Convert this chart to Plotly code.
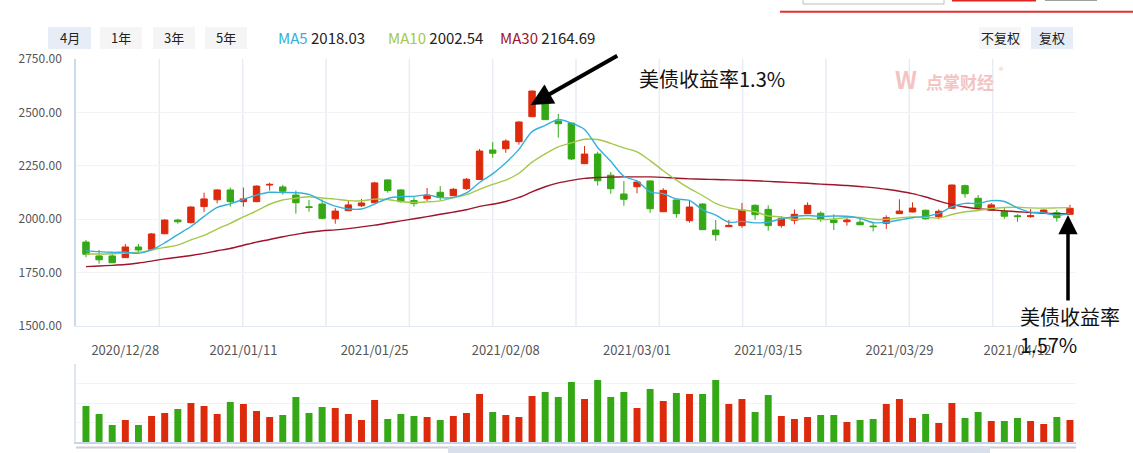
import plotly.graph_objects as go

# ---------------- data ----------------
dates = [
    "2020/12/23", "2020/12/24", "2020/12/25", "2020/12/28", "2020/12/29", "2020/12/30", "2020/12/31",
    "2021/01/04", "2021/01/05", "2021/01/06", "2021/01/07", "2021/01/08",
    "2021/01/11", "2021/01/12", "2021/01/13", "2021/01/14", "2021/01/15",
    "2021/01/18", "2021/01/19", "2021/01/20", "2021/01/21", "2021/01/22",
    "2021/01/25", "2021/01/26", "2021/01/27", "2021/01/28", "2021/01/29",
    "2021/02/01", "2021/02/02", "2021/02/03", "2021/02/04", "2021/02/05",
    "2021/02/08", "2021/02/09", "2021/02/10", "2021/02/18", "2021/02/19",
    "2021/02/22", "2021/02/23", "2021/02/24", "2021/02/25", "2021/02/26",
    "2021/03/01", "2021/03/02", "2021/03/03", "2021/03/04", "2021/03/05",
    "2021/03/08", "2021/03/09", "2021/03/10", "2021/03/11", "2021/03/12",
    "2021/03/15", "2021/03/16", "2021/03/17", "2021/03/18", "2021/03/19",
    "2021/03/22", "2021/03/23", "2021/03/24", "2021/03/25", "2021/03/26",
    "2021/03/29", "2021/03/30", "2021/03/31", "2021/04/01", "2021/04/02",
    "2021/04/06", "2021/04/07", "2021/04/08", "2021/04/09",
    "2021/04/12", "2021/04/13", "2021/04/14", "2021/04/15", "2021/04/16",
]

opens = [1893, 1828, 1828, 1820, 1870, 1859, 1932, 1996, 1984, 2059,
         2091, 2137, 2082, 2082, 2160, 2151, 2113, 2058, 2071, 2002,
         2040, 2063, 2077, 2184, 2137, 2087, 2096, 2126, 2110, 2143,
         2186, 2324, 2330, 2363, 2480, 2586, 2460, 2450, 2260, 2305,
         2206, 2118, 2152, 2179, 2035, 2090, 1993, 2071, 1949, 1965,
         1970, 2065, 2046, 1970, 1995, 2026, 2028, 1996, 1988, 1986,
         1968, 1981, 2026, 2034, 2042, 2012, 2051, 2157, 2098, 2042,
         2037, 2016, 2012, 2028, 2030, 2023]
highs = [1903, 1856, 1840, 1884, 1884, 1935, 2000, 2002, 2060, 2124,
         2140, 2148, 2148, 2158, 2171, 2161, 2134, 2090, 2093, 2052,
         2085, 2095, 2175, 2186, 2140, 2103, 2146, 2155, 2146, 2193,
         2329, 2361, 2374, 2458, 2602, 2624, 2493, 2452, 2343, 2316,
         2221, 2179, 2176, 2181, 2145, 2092, 2087, 2075, 1996, 1996,
         2076, 2070, 2065, 2014, 2046, 2079, 2037, 2023, 2012, 2009,
         1988, 2018, 2093, 2079, 2045, 2046, 2162, 2162, 2113, 2076,
         2052, 2024, 2048, 2045, 2043, 2067]
lows = [1822, 1792, 1796, 1820, 1843, 1855, 1930, 1979, 1980, 2034,
        2074, 2059, 2059, 2080, 2134, 2115, 2026, 2035, 2000, 1979,
        2038, 2057, 2075, 2124, 2078, 2059, 2085, 2090, 2108, 2137,
        2184, 2288, 2311, 2349, 2478, 2466, 2382, 2277, 2258, 2157,
        2119, 2063, 2121, 2030, 2033, 2007, 1984, 1950, 1899, 1963,
        1960, 1998, 1946, 1960, 1976, 2024, 1988, 1949, 1970, 1972,
        1943, 1954, 2024, 2032, 1998, 2000, 2049, 2101, 2050, 2040,
        2002, 1988, 2006, 2025, 1988, 2020]
closes = [1836, 1810, 1796, 1870, 1856, 1931, 1996, 1988, 2057, 2095,
          2137, 2082, 2095, 2155, 2163, 2131, 2077, 2055, 2004, 2038,
          2067, 2076, 2170, 2134, 2082, 2073, 2113, 2103, 2140, 2187,
          2319, 2309, 2366, 2455, 2600, 2466, 2447, 2282, 2305, 2180,
          2143, 2093, 2174, 2049, 2135, 2026, 2057, 1951, 1927, 1971,
          2043, 2021, 1970, 2004, 2023, 2065, 2001, 1984, 1996, 1974,
          1965, 2007, 2038, 2052, 2002, 2037, 2160, 2119, 2054, 2067,
          2014, 2012, 2016, 2043, 2007, 2051]

ma5 = [1853, 1848, 1845, 1845, 1840, 1856, 1889, 1928, 1966, 2013,
       2055, 2072, 2093, 2113, 2126, 2125, 2124, 2116, 2086, 2061,
       2048, 2048, 2071, 2097, 2106, 2107, 2114, 2101, 2102, 2123,
       2172, 2212, 2264, 2327, 2410, 2439, 2467, 2450, 2420, 2336,
       2271, 2201, 2179, 2128, 2119, 2095, 2088, 2044, 2019, 1986,
       1990, 1983, 1986, 2002, 2012, 2017, 2013, 2015, 2014, 2004,
       1984, 1985, 1996, 2007, 2013, 2027, 2058, 2074, 2074, 2087,
       2083, 2053, 2033, 2030, 2018, 2026]
ma10 = [1837, 1837, 1838, 1842, 1845, 1856, 1868, 1879, 1903, 1924,
        1954, 1981, 2011, 2039, 2070, 2090, 2098, 2105, 2099, 2094,
        2087, 2086, 2094, 2092, 2083, 2078, 2081, 2086, 2100, 2115,
        2140, 2163, 2183, 2215, 2267, 2306, 2339, 2357, 2374, 2373,
        2355, 2334, 2315, 2274, 2227, 2183, 2144, 2111, 2074, 2053,
        2043, 2035, 2015, 2011, 1999, 2003, 1998, 2001, 2008, 2008,
        2000, 1999, 2006, 2011, 2009, 2006, 2022, 2035, 2041, 2050,
        2055, 2056, 2053, 2052, 2053, 2054]
ma30 = [1778, 1781, 1784, 1788, 1795, 1804, 1814, 1822, 1830, 1840,
        1852, 1863, 1878, 1893, 1905, 1918, 1929, 1939, 1946, 1950,
        1956, 1964, 1972, 1982, 1992, 2002, 2012, 2023, 2033, 2044,
        2060, 2070, 2083, 2102, 2128, 2152, 2170, 2182, 2191, 2195,
        2197, 2198, 2198, 2198, 2196, 2192, 2189, 2187, 2186, 2184,
        2182, 2180, 2177, 2174, 2171, 2168, 2164, 2161, 2158, 2153,
        2148, 2140, 2131, 2120, 2104, 2085, 2068, 2057, 2049, 2044,
        2039, 2035, 2031, 2028, 2026, 2024]

volumes = [360, 280, 170, 220, 170, 260, 290, 330, 390, 360,
           280, 400, 380, 310, 250, 270, 450, 290, 350, 340,
           280, 220, 420, 230, 280, 260, 250, 220, 260, 290,
           480, 300, 270, 250, 460, 500, 450, 600, 430, 620,
           450, 500, 340, 530, 410, 490, 480, 480, 620, 380,
           430, 300, 470, 260, 230, 250, 270, 270, 200, 220,
           230, 380, 430, 240, 280, 190, 390, 240, 300, 210,
           210, 240, 210, 180, 250, 220]

date_ticks = ["2020/12/28", "2021/01/11", "2021/01/25", "2021/02/08",
              "2021/03/01", "2021/03/15", "2021/03/29", "2021/04/12"]

header_ma = [("MA5", "2018.03"), ("MA10", "2002.54"), ("MA30", "2164.69")]
note1 = "美债收益率1.3%"
note2a = "美债收益率"
note2b = "1.57%"

# ---------------- style ----------------
W, H = 1133, 453
RED = "#dd2a0c"
GREEN = "#34a915"
C_MA5 = "#35b0dc"
C_MA10 = "#a3c94a"
C_MA30 = "#9e1428"
FONT = "Noto Sans CJK SC, Noto Sans, sans-serif"
L, R = 76, 1076


def px(x):
    return (x - L) / (R - L)


def py(y):
    return 1 - y / H


price_dom = [py(326), py(59)]
vol_dom = [py(442), py(364)]

fig = go.Figure()

fig.add_trace(go.Candlestick(
    x=dates, open=opens, high=highs, low=lows, close=closes,
    increasing=dict(line=dict(color=RED, width=1), fillcolor=RED),
    decreasing=dict(line=dict(color=GREEN, width=1), fillcolor=GREEN),
    whiskerwidth=0, xaxis="x", yaxis="y", showlegend=False, hoverinfo="skip",
))

for vals, col in [(ma30, C_MA30), (ma10, C_MA10), (ma5, C_MA5)]:
    fig.add_trace(go.Scatter(
        x=dates, y=vals, mode="lines",
        line=dict(color=col, width=1.4, shape="spline", smoothing=0.8),
        xaxis="x", yaxis="y", showlegend=False, hoverinfo="skip",
    ))

vol_colors = [RED if c >= o else GREEN for o, c in zip(opens, closes)]
fig.add_trace(go.Bar(
    x=dates, y=volumes, marker=dict(color=vol_colors, line=dict(width=0)),
    width=0.53, xaxis="x2", yaxis="y2", showlegend=False, hoverinfo="skip",
))

shapes = []
# vertical grid lines in price panel
for k in range(1, 12):
    xg = L + (R - L) * k / 12
    shapes.append(dict(type="line", xref="paper", yref="paper",
                       x0=px(xg), x1=px(xg), y0=price_dom[0], y1=price_dom[1],
                       line=dict(color="#e7ecf4", width=1.5), layer="below"))

# header buttons
buttons = [("4月", 48, 91, "#e6edf7"), ("1年", 100, 142, "#f5f5f5"),
           ("3年", 153, 195, "#f5f5f5"), ("5年", 205, 247, "#f5f5f5"),
           ("不复权", 979, 1021, "#f5f5f5"), ("复权", 1031, 1073, "#e6edf7")]
annotations = []
for label, x0, x1, bg in buttons:
    shapes.append(dict(type="rect", xref="paper", yref="paper",
                       x0=px(x0), x1=px(x1), y0=py(49), y1=py(27),
                       fillcolor=bg, line=dict(width=0), layer="below"))
    annotations.append(dict(xref="paper", yref="paper", x=px((x0 + x1) / 2), y=py(38),
                            text=label, showarrow=False,
                            font=dict(family=FONT, size=13, color="#222"),
                            xanchor="center", yanchor="middle"))

# MA header labels
ma_x = [276, 386, 498]
for (name, val), col, xx in zip(header_ma, [C_MA5, C_MA10, C_MA30], ma_x):
    annotations.append(dict(xref="paper", yref="paper", x=px(xx), y=py(38),
                            text=f"<span style='color:{col}'>{name}</span> {val}",
                            showarrow=False, xanchor="left", yanchor="middle",
                            font=dict(family=FONT, size=15, color="#222")))

# top-right cropped page elements
shapes.append(dict(type="rect", xref="paper", yref="paper", x0=px(803), x1=px(944),
                   y0=py(4), y1=py(-6), line=dict(color="#bdbdbd", width=1), fillcolor="white"))
shapes.append(dict(type="rect", xref="paper", yref="paper", x0=px(952), x1=px(1036),
                   y0=py(1.5), y1=py(-6), line=dict(width=0), fillcolor="#e02525"))
shapes.append(dict(type="rect", xref="paper", yref="paper", x0=px(1045), x1=px(1097),
                   y0=py(1), y1=py(-6), line=dict(width=0), fillcolor="#a0a0a0"))
shapes.append(dict(type="line", xref="paper", yref="paper", x0=px(780), x1=px(1133),
                   y0=py(11.7), y1=py(11.7), line=dict(color="#e03030", width=2)))

# bottom slider
shapes.append(dict(type="line", xref="paper", yref="paper", x0=px(76), x1=px(1076),
                   y0=py(447.5), y1=py(447.5), line=dict(color="#cfcfcf", width=2)))
shapes.append(dict(type="rect", xref="paper", yref="paper", x0=px(448), x1=px(990),
                   y0=py(453), y1=py(446.5), line=dict(width=0), fillcolor="#d9e0ec"))

# watermark
annotations.append(dict(xref="paper", yref="paper", x=px(960), y=py(81), text="<b>点掌财经</b>",
                        showarrow=False, font=dict(family=FONT, size=17, color="#f4c4c4"),
                        xanchor="center", yanchor="middle"))
annotations.append(dict(xref="paper", yref="paper", x=px(1001), y=py(70), text="®",
                        showarrow=False, font=dict(family=FONT, size=9, color="#f4c4c4"),
                        xanchor="center", yanchor="middle"))
annotations.append(dict(xref="paper", yref="paper", x=px(906), y=py(78), text="<b>W</b>",
                        showarrow=False, font=dict(family=FONT, size=24, color="#f4c4c4"),
                        xanchor="center", yanchor="middle"))

# arrows & notes
annotations.append(dict(x=33.9, y=2535, xref="x", yref="y", text="", showarrow=True,
                        ax=88, ay=-50, arrowhead=2, arrowsize=1.1, arrowwidth=4,
                        arrowcolor="#000"))
annotations.append(dict(xref="paper", yref="paper", x=px(637), y=py(78), text=note1,
                        showarrow=False, xanchor="left", yanchor="middle",
                        font=dict(family=FONT, size=20, color="#111")))
annotations.append(dict(x=74.85, y=2020, xref="x", yref="y", text="", showarrow=True,
                        ax=0, ay=87, arrowhead=2, arrowsize=1.1, arrowwidth=3.5,
                        arrowcolor="#000"))
annotations.append(dict(xref="paper", yref="paper", x=px(1018), y=py(316), text=note2a,
                        showarrow=False, xanchor="left", yanchor="middle",
                        font=dict(family=FONT, size=20, color="#111")))
annotations.append(dict(xref="paper", yref="paper", x=px(1018), y=py(344), text=note2b,
                        showarrow=False, xanchor="left", yanchor="middle",
                        font=dict(family=FONT, size=20, color="#111")))

xr = [-0.76, 75.46]
fig.update_layout(
    width=W, height=H,
    margin=dict(l=L, r=W - R, t=0, b=0, pad=0, autoexpand=False),
    paper_bgcolor="white", plot_bgcolor="white",
    font=dict(family=FONT),
    showlegend=False,
    xaxis=dict(type="category", range=xr, domain=[0, 1], anchor="y",
               rangeslider=dict(visible=False), showgrid=False, automargin=False,
               tickmode="array", tickvals=date_ticks, ticktext=date_ticks,
               ticks="outside", ticklen=12, tickcolor="rgba(0,0,0,0)",
               tickfont=dict(size=13, color="#555"),
               showline=True, linecolor="#e2e8f2", linewidth=1, zeroline=False),
    yaxis=dict(domain=price_dom, range=[1500, 2750], dtick=250, tick0=1500,
               tickformat=".2f", gridcolor="#f1f3f7", gridwidth=1, automargin=False,
               showline=True, linecolor="#cdd9ec", linewidth=1.5, zeroline=False,
               ticks="outside", ticklen=10, tickcolor="rgba(0,0,0,0)",
               tickfont=dict(size=12, color="#555")),
    xaxis2=dict(type="category", matches="x", range=xr, domain=[0, 1], anchor="y2",
                showticklabels=False, showgrid=False, ticks="", automargin=False,
                showline=True, linecolor="#c8d4e8", linewidth=2, zeroline=False),
    yaxis2=dict(domain=vol_dom, range=[0, 780], dtick=195, showticklabels=False,
                gridcolor="#f1f3f7", showline=True, linecolor="#dfe6f1", linewidth=1.5,
                zeroline=False, ticks="", automargin=False),
    shapes=shapes,
    annotations=annotations,
)

fig.write_html("out.html")
